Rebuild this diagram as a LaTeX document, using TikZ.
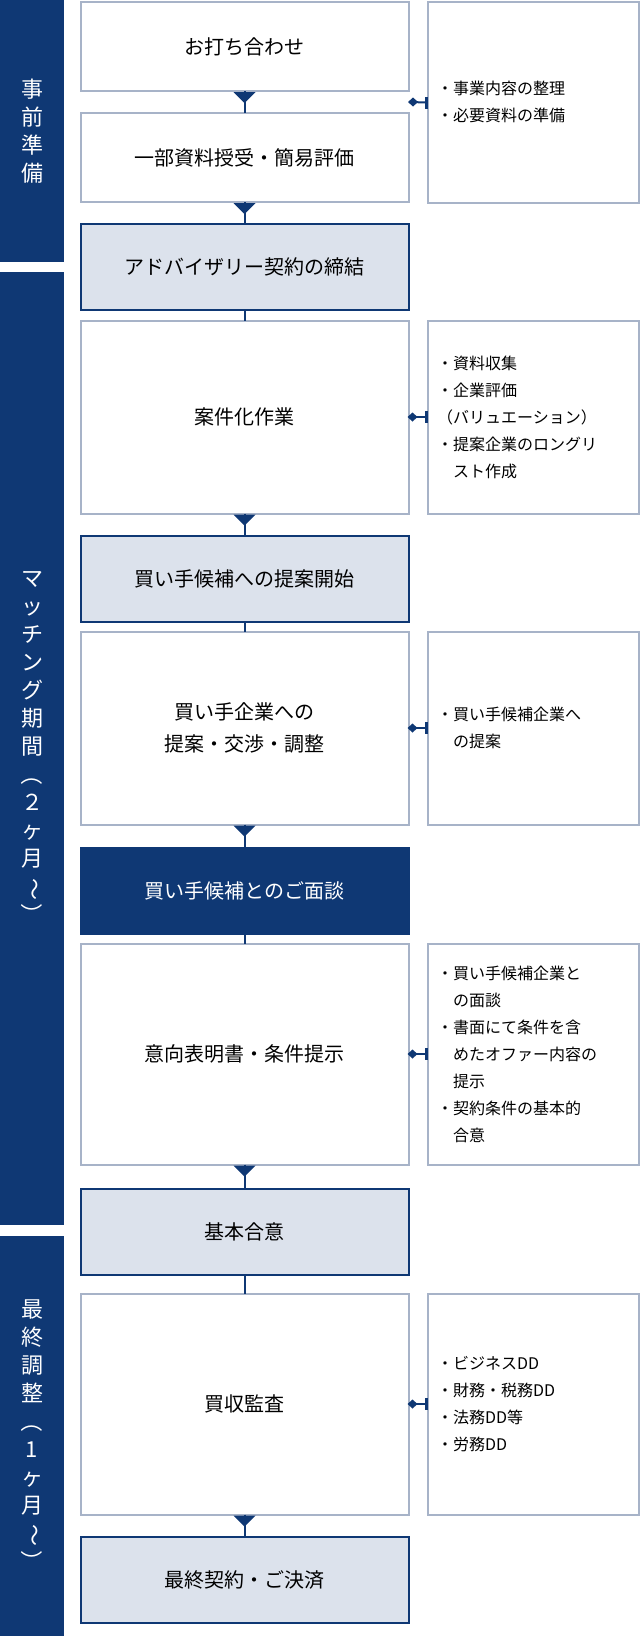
\documentclass[tikz,border=0pt]{standalone}
\usepackage{fontspec}
\setmainfont{Noto Sans CJK JP}
\newfontfamily\jp{Noto Sans CJK JP}
\definecolor{navy}{HTML}{0F3874}
\definecolor{pale}{HTML}{DCE2EC}
\definecolor{edge}{HTML}{A7B3C8}
\newcommand{\rp}[1]{\rotatebox[origin=c]{-90}{#1}}
\tikzset{
 whitebox/.style={draw=edge,line width=2pt,fill=white,minimum width=328pt,inner sep=0,outer sep=0,align=center,font=\fontsize{20}{32}\selectfont},
 palebox/.style={whitebox,draw=navy,fill=pale},
 darkbox/.style={whitebox,draw=navy,fill=navy,text=white},
 sidebox/.style={draw=edge,line width=2pt,fill=white,minimum width=211pt,inner sep=0,outer sep=0},
 sidetext/.style={anchor=west,align=left,inner sep=0,font=\fontsize{16}{27}\selectfont},
 bar/.style={fill=navy,draw=none,minimum width=64pt,inner sep=0,outer sep=0,text=white,align=center,font=\fontsize{22}{28}\selectfont},
 link/.style={draw=navy,line width=2pt},
}
\newcommand{\tri}[1]{\fill[navy] ([xshift=-11pt,yshift=-1pt]#1) -- ([xshift=11pt,yshift=-1pt]#1) -- ([yshift=-12pt]#1) -- cycle;}
\newcommand{\dia}[2]{\fill[navy] ([xshift=-1pt]#1) -- ([xshift=4pt,yshift=4.5pt]#1) -- ([xshift=9pt]#1) -- ([xshift=4pt,yshift=-4.5pt]#1) -- cycle;
 \draw[link] (#1) -- (#2);
 \fill[navy] ([xshift=-3pt,yshift=-6pt]#2) rectangle ([yshift=6pt]#2);}
\begin{document}
\begin{tikzpicture}[x=1pt,y=-1pt]
\useasboundingbox (0,0) rectangle (640,1636);
\fill[white] (0,0) rectangle (640,1636);
% bars
\node[bar,minimum height=262pt] (bar1) at (32,131) {事\\前\\準\\備};
\node[bar,minimum height=953pt] (bar2) at (32,748.5) {マ\\ッ\\チ\\ン\\グ\\期\\間\\\rp{（}\\２\\ヶ\\月\\\rp{〜}\\\rp{）}};
\node[bar,minimum height=400pt] (bar3) at (32,1436) {最\\終\\調\\整\\\rp{（}\\1\\ヶ\\月\\\rp{〜}\\\rp{）}};
% main boxes
\node[whitebox,minimum height=89pt] (b1) at (244.5,46.5) {お打ち合わせ};
\node[whitebox,minimum height=89pt] (b2) at (244.5,157.5) {一部資料授受・簡易評価};
\node[palebox,minimum height=86pt] (b3) at (244.5,267) {アドバイザリー契約の締結};
\node[whitebox,minimum height=193pt] (b4) at (244.5,417) {案件化作業};
\node[palebox,minimum height=86pt] (b5) at (244.5,578.5) {買い手候補への提案開始};
\node[whitebox,minimum height=193pt] (b6) at (244.5,728) {買い手企業への\\提案・交渉・調整};
\node[darkbox,minimum height=86pt] (b7) at (244.5,890.5) {買い手候補とのご面談};
\node[whitebox,minimum height=221pt] (b8) at (244.5,1054) {意向表明書・条件提示};
\node[palebox,minimum height=86pt] (b9) at (244.5,1231.5) {基本合意};
\node[whitebox,minimum height=221pt] (b10) at (244.5,1404) {買収監査};
\node[palebox,minimum height=86pt] (b11) at (244.5,1580) {最終契約・ご決済};
% side boxes
\node[sidebox,minimum height=201pt] (s1) at (533,102.5) {};
\node[sidebox,minimum height=193pt] (s4) at (533,417) {};
\node[sidebox,minimum height=193pt] (s6) at (533,728) {};
\node[sidebox,minimum height=221pt] (s8) at (533,1054) {};
\node[sidebox,minimum height=221pt] (s10) at (533,1404) {};
\node[sidetext] (t1) at (437,102) {\fontsize{16}{42}\selectfont ・事業内容の整理\\・必要資料の準備};
\node[sidetext] (t4) at (437,417) {・資料収集\\・企業評価\\（バリュエーション）\\・提案企業のロングリ\\\phantom{・}スト作成};
\node[sidetext] (t6) at (437,728) {・買い手候補企業へ\\\phantom{・}の提案};
\node[sidetext] (t8) at (437,1054) {・買い手候補企業と\\\phantom{・}の面談\\・書面にて条件を含\\\phantom{・}めたオファー内容の\\\phantom{・}提示\\・契約条件の基本的\\\phantom{・}合意};
\node[sidetext] (t10) at (437,1404) {\fontsize{16}{33}\selectfont ・ビジネスDD\\・財務・税務DD\\・法務DD等\\・労務DD};
% vertical connectors
\draw[link] (b1.south) -- (b2.north); \tri{b1.south}
\draw[link] (b2.south) -- (b3.north); \tri{b2.south}
\draw[link] (b3.south) -- (b4.north);
\draw[link] (b4.south) -- (b5.north); \tri{b4.south}
\draw[link] (b5.south) -- (b6.north);
\draw[link] (b6.south) -- (b7.north); \tri{b6.south}
\draw[link] (b7.south) -- (b8.north);
\draw[link] (b8.south) -- (b9.north); \tri{b8.south}
\draw[link] (b9.south) -- (b10.north);
\draw[link] (b10.south) -- (b11.north); \tri{b10.south}
% side connectors
\coordinate (c1) at (409,102);
\dia{c1}{s1.west}
\dia{b4.east}{s4.west}
\dia{b6.east}{s6.west}
\dia{b8.east}{s8.west}
\dia{b10.east}{s10.west}
\end{tikzpicture}
\end{document}
